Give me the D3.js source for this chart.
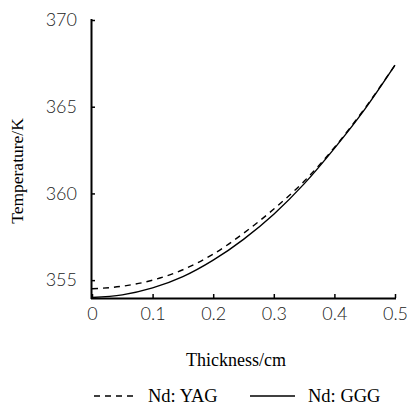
<!DOCTYPE html>
<html>
<head>
<meta charset="utf-8">
<script src="https://cdn.jsdelivr.net/npm/d3@7"></script>
<style>
  html, body { margin: 0; padding: 0; background: #fff; }
  svg { display: block; }
</style>
</head>
<body>
<svg id="chart" width="407" height="414"></svg>
<script>
// Thickness (cm) sample points
const thickness = [0, 0.05, 0.1, 0.15, 0.2, 0.25, 0.3, 0.35, 0.4, 0.45, 0.5];
// Temperature (K) for each crystal
const tempYAG = [354.5, 354.65, 355.0, 355.6, 356.5, 357.7, 359.1, 360.7, 362.65, 364.9, 367.4];
const tempGGG = [354.0, 354.15, 354.55, 355.2, 356.15, 357.35, 358.8, 360.55, 362.6, 364.85, 367.4];
const xTicks = [0, 0.1, 0.2, 0.3, 0.4, 0.5];
const yTicks = [355, 360, 365, 370];
const seriesNames = ["Nd: YAG", "Nd: GGG"];

const svg = d3.select("#chart");
const x = d3.scaleLinear().domain([0, 0.5]).range([92, 395]);
const y = d3.scaleLinear().domain([353.97, 370]).range([298, 20]);

const tickFont = "Lato, 'Open Sans', sans-serif";
const serif = "'Liberation Serif', 'Times New Roman', serif";

// curves
const line = d3.line().curve(d3.curveMonotoneX).x(d => x(d[0])).y(d => y(d[1]));
svg.append("path")
  .datum(thickness.map((t, i) => [t, tempGGG[i]]))
  .attr("d", line).attr("fill", "none").attr("stroke", "#000").attr("stroke-width", 1.4);
svg.append("path")
  .datum(thickness.map((t, i) => [t, tempYAG[i]]))
  .attr("d", line).attr("fill", "none").attr("stroke", "#000").attr("stroke-width", 1.4)
  .attr("stroke-dasharray", "6,5");

// axes
const xAxis = d3.axisBottom(x).tickValues(xTicks).tickSize(-4).tickPadding(9)
  .tickFormat(d => d === 0 ? "0" : d3.format(".1f")(d));
const gx = svg.append("g").attr("transform", "translate(0,298)").call(xAxis);
gx.select(".domain").attr("stroke-width", 2).attr("d", "M91,0.5H396");
gx.selectAll(".tick line").attr("stroke-width", 1.5);
gx.selectAll("text").attr("font-family", tickFont).attr("font-size", 18)
  .attr("fill", "#222").attr("font-weight", 300);

const yAxis = d3.axisLeft(y).tickValues(yTicks).tickSize(-4).tickPadding(14);
const gy = svg.append("g").attr("transform", "translate(91,0)").call(yAxis);
gy.select(".domain").attr("stroke-width", 2).attr("d", "M0.5,19V299");
gy.selectAll(".tick line").attr("stroke-width", 1.5);
gy.selectAll("text").attr("font-family", tickFont).attr("font-size", 18)
  .attr("fill", "#222").attr("font-weight", 300);

// axis titles
svg.append("text").attr("transform", "translate(23,171) rotate(-90)")
  .attr("text-anchor", "middle").attr("font-family", serif).attr("font-size", 17.5)
  .text("Temperature/K");
svg.append("text").attr("x", 236).attr("y", 366)
  .attr("text-anchor", "middle").attr("font-family", serif).attr("font-size", 18)
  .text("Thickness/cm");

// legend
const legend = [
  { name: seriesNames[0], dash: "6,5", x1: 94, x2: 136, tx: 148 },
  { name: seriesNames[1], dash: null, x1: 250, x2: 295, tx: 308 }
];
legend.forEach(l => {
  svg.append("line").attr("x1", l.x1).attr("x2", l.x2).attr("y1", 396).attr("y2", 396)
    .attr("stroke", "#000").attr("stroke-width", 1.5)
    .attr("stroke-dasharray", l.dash);
  svg.append("text").attr("x", l.tx).attr("y", 402)
    .attr("font-family", serif).attr("font-size", 18.5).text(l.name);
});
</script>
</body>
</html>
